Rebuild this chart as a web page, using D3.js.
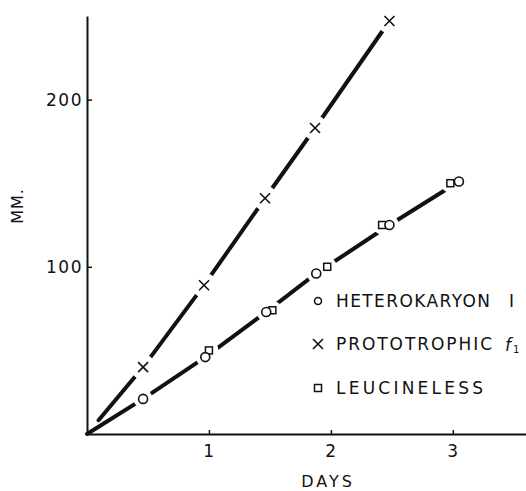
<!DOCTYPE html>
<html>
<head>
<meta charset="utf-8">
<script src="https://d3js.org/d3.v7.min.js"></script>
<style>
  body { margin: 0; background: #fff; }
  text { font-family: "DejaVu Sans", sans-serif; fill: #111; }
</style>
</head>
<body>
<script>
// growth in mm against days
const protoDays = [0.46, 0.96, 1.46, 1.87, 2.48];
const protoMM = [40, 89, 141, 183, 247];

const heteroDays = [0.46, 0.97, 1.47, 1.88, 2.48, 3.05];
const heteroMM = [21, 46, 73, 96, 125, 151];

const leucDays = [1.0, 1.52, 1.97, 2.42, 2.98];
const leucMM = [50, 74, 100, 125, 150];

const xTicks = [1, 2, 3];
const yTicks = [100, 200];
const legendItems = ["HETEROKARYON", "PROTOTROPHIC", "LEUCINELESS"];

const width = 526, height = 491;

const svg = d3.select("body")
  .append("svg")
  .attr("width", width)
  .attr("height", height);

svg.append("rect").attr("width", width).attr("height", height).attr("fill", "#fff");

const x = d3.scaleLinear().domain([0, 3.6]).range([87, 526]);
const y = d3.scaleLinear().domain([0, 250]).range([434, 16]);

const zip = (xs, ys) => xs.map((d, i) => [d, ys[i]]);
const proto = zip(protoDays, protoMM);
const hetero = zip(heteroDays, heteroMM);
const leuc = zip(leucDays, leucMM);

// axes
const xAxis = svg.append("g")
  .attr("transform", `translate(0,${y(0)})`)
  .call(d3.axisBottom(x).tickValues(xTicks).tickFormat(d3.format("d"))
    .tickSizeInner(-4).tickSizeOuter(0).tickPadding(11));

const yAxis = svg.append("g")
  .attr("transform", `translate(${x(0)},0)`)
  .call(d3.axisLeft(y).tickValues(yTicks).tickSizeInner(-5).tickSizeOuter(0).tickPadding(4));

[xAxis, yAxis].forEach(g => {
  g.select(".domain").attr("stroke", "#111").attr("stroke-width", 2);
  g.selectAll(".tick line").attr("stroke", "#111").attr("stroke-width", 1.5);
  g.selectAll(".tick text")
    .attr("font-family", "DejaVu Sans")
    .attr("font-size", 17)
    .attr("letter-spacing", 1.5)
    .attr("fill", "#111");
});

svg.append("text")
  .attr("x", 328).attr("y", 487)
  .attr("text-anchor", "middle")
  .attr("font-size", 16)
  .attr("letter-spacing", 3)
  .text("DAYS");

svg.append("text")
  .attr("transform", "translate(23,206) rotate(-90)")
  .attr("text-anchor", "middle")
  .attr("font-size", 16)
  .attr("letter-spacing", 1)
  .text("MM.");

// lines from the origin
const line = d3.line().x(d => x(d[0])).y(d => y(d[1]));

svg.append("path")
  .attr("d", line([[0, 0], ...proto]))
  .attr("fill", "none")
  .attr("stroke", "#111")
  .attr("stroke-width", 4)
  .attr("stroke-linecap", "round")
  .attr("stroke-dasharray", "3000 18")
  .attr("stroke-dashoffset", 3000);

svg.append("path")
  .attr("d", line([[0, 0], ...hetero]))
  .attr("fill", "none")
  .attr("stroke", "#111")
  .attr("stroke-width", 4)
  .attr("stroke-linecap", "round");

// white gaps around the markers, wider round the crosses
const gaps = svg.append("g");
gaps.selectAll("circle.px")
  .data(proto)
  .join("circle")
  .attr("class", "px")
  .attr("cx", d => x(d[0]))
  .attr("cy", d => y(d[1]))
  .attr("r", 12.5)
  .attr("fill", "#fff");
gaps.selectAll("circle.ox")
  .data([...hetero, ...leuc])
  .join("circle")
  .attr("class", "ox")
  .attr("cx", d => x(d[0]))
  .attr("cy", d => y(d[1]))
  .attr("r", 9.5)
  .attr("fill", "#fff");

function square(g, cx, cy) {
  g.append("rect")
    .attr("x", cx - 3.5).attr("y", cy - 3.5)
    .attr("width", 7).attr("height", 7)
    .attr("fill", "#fff").attr("stroke", "#111").attr("stroke-width", 1.5);
}
function ring(g, cx, cy, r) {
  g.append("circle")
    .attr("cx", cx).attr("cy", cy).attr("r", r)
    .attr("fill", "#fff").attr("stroke", "#111").attr("stroke-width", 1.6);
}
function cross(g, cx, cy) {
  g.append("path")
    .attr("d", `M${cx - 5},${cy - 5}L${cx + 5},${cy + 5}M${cx + 5},${cy - 5}L${cx - 5},${cy + 5}`)
    .attr("stroke", "#111").attr("stroke-width", 1.6).attr("fill", "none");
}

const marks = svg.append("g");
leuc.forEach(d => square(marks, x(d[0]), y(d[1])));
hetero.forEach(d => ring(marks, x(d[0]), y(d[1]), 4.5));
proto.forEach(d => cross(marks, x(d[0]), y(d[1])));

// legend
const legend = svg.append("g");
const legendY = [307, 350, 394];
const legendLen = [154, 156, 147];

ring(legend, 318, legendY[0] - 6, 3.5);
cross(legend, 318, legendY[1] - 6);
square(legend, 318, legendY[2] - 6);

legend.selectAll("text.item")
  .data(legendItems)
  .join("text")
  .attr("class", "item")
  .attr("x", 336)
  .attr("y", (d, i) => legendY[i])
  .attr("font-size", 17)
  .attr("textLength", (d, i) => legendLen[i])
  .attr("lengthAdjust", "spacing")
  .text(d => d);

legend.append("text")
  .attr("x", 509).attr("y", legendY[0])
  .attr("font-size", 17)
  .text("I");

const f1 = legend.append("text")
  .attr("x", 505).attr("y", legendY[1] + 1)
  .attr("font-family", "DejaVu Serif")
  .attr("font-style", "italic")
  .attr("font-size", 17);
f1.append("tspan").text("f");
f1.append("tspan").attr("dx", 2).attr("dy", 2).attr("font-size", 10).attr("font-style", "normal").text("1");
</script>
</body>
</html>
